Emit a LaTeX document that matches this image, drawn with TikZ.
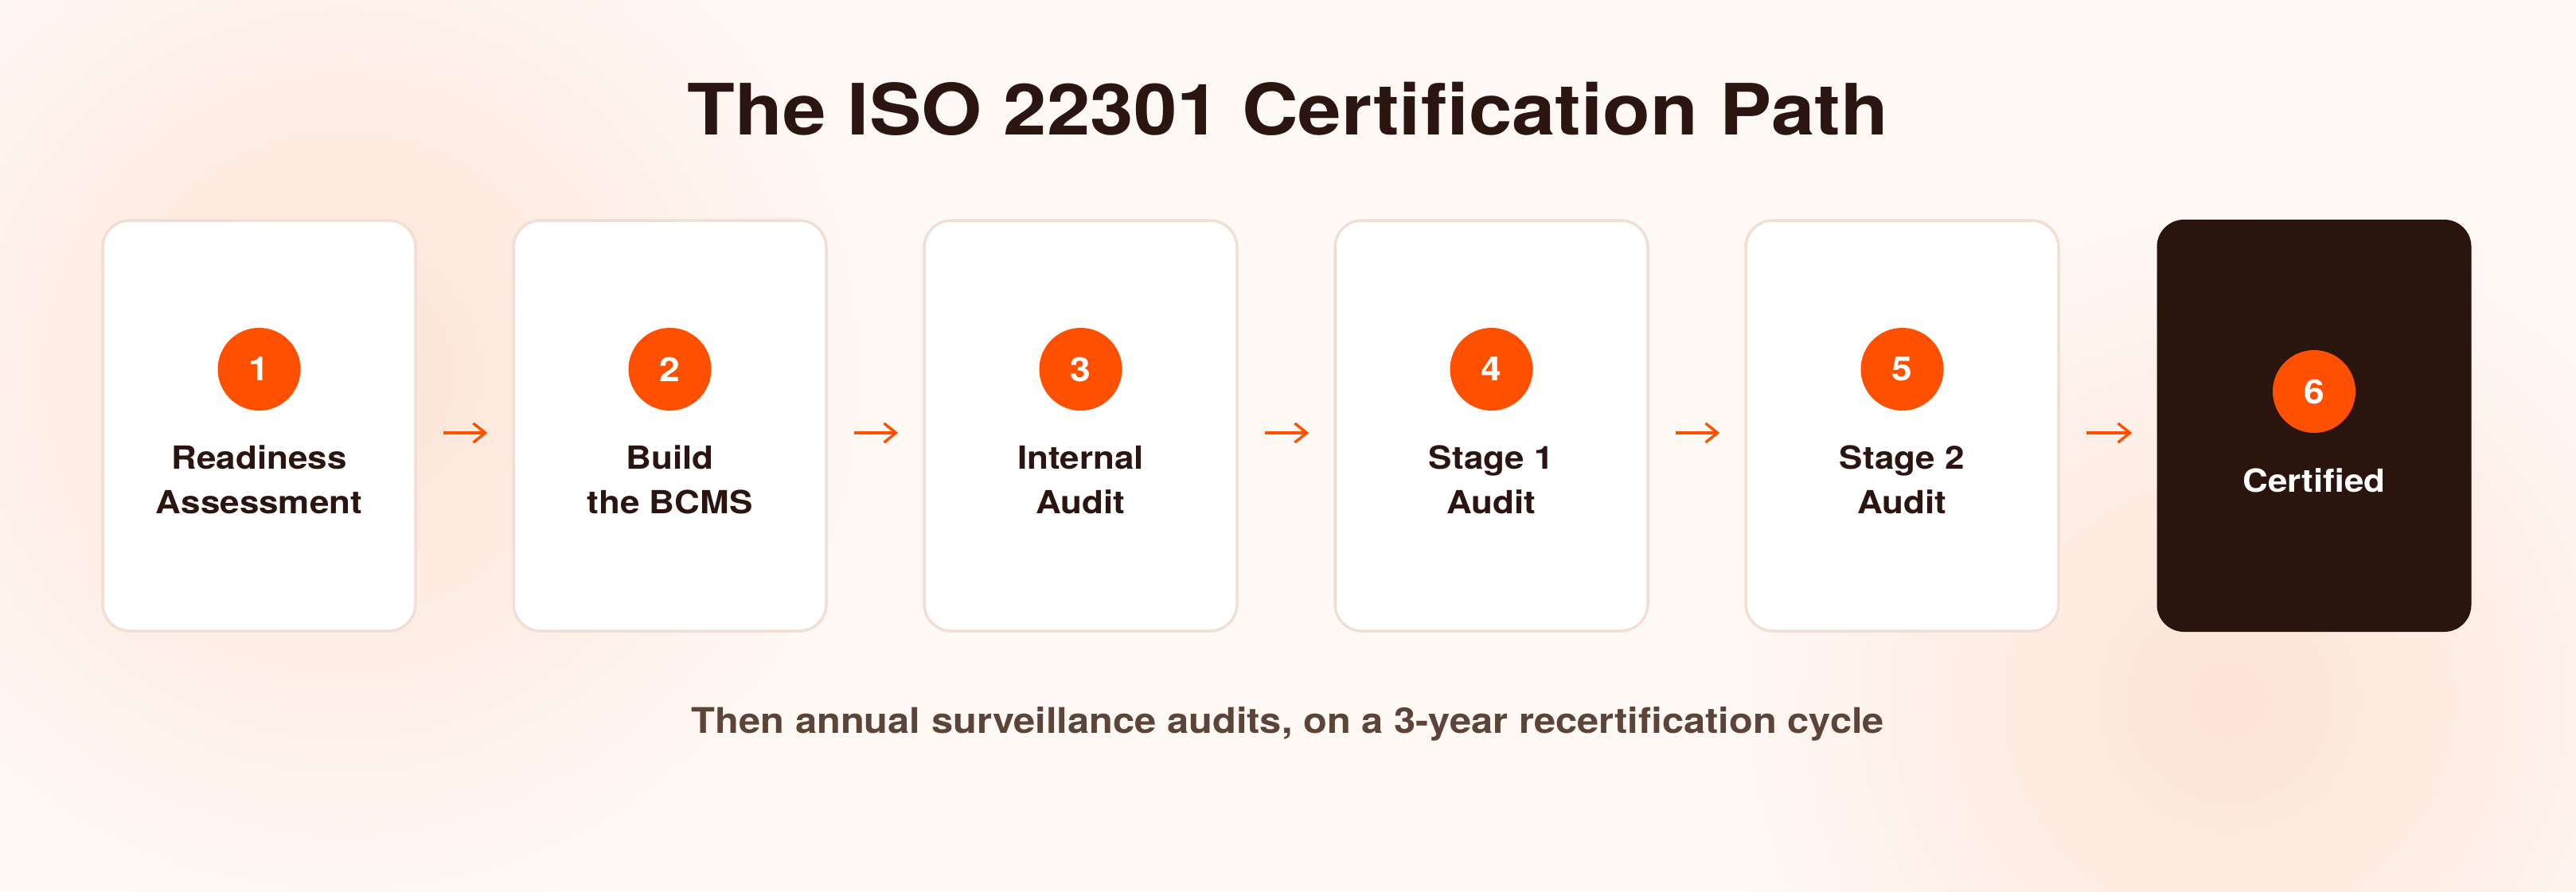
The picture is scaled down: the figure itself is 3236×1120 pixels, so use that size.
\documentclass[tikz,border=0pt]{standalone}
\usepackage{fontspec}
\setmainfont{TeX Gyre Heros}[FakeStretch=1.1]
\usetikzlibrary{arrows.meta}
\definecolor{bgbase}{HTML}{FFF9F6}
\definecolor{glow}{HTML}{FDE3D5}
\definecolor{ink}{HTML}{2B1510}
\definecolor{subink}{HTML}{5C4538}
\definecolor{accent}{HTML}{FF5000}
\definecolor{cardline}{HTML}{F1DFD4}
\definecolor{darkcard}{HTML}{2A150E}
\tikzset{
  card/.style={draw=cardline, line width=3.5pt, fill=white, rounded corners=34pt,
    minimum width=393pt, minimum height=516pt, inner sep=0pt},
  darkbox/.style={fill=darkcard, rounded corners=34pt,
    minimum width=395pt, minimum height=518pt, inner sep=0pt},
  badge/.style={circle, fill=accent, minimum size=104pt, inner sep=0pt,
    text=white, font=\fontsize{42}{42}\selectfont\bfseries},
  steplabel/.style={align=center, text=ink, font=\fontsize{40}{56}\selectfont\bfseries, inner sep=0pt},
  flow/.style={draw=accent, line width=3.4pt, -{Straight Barb[length=15pt,width=24pt]},
    shorten <=33pt, shorten >=31pt}
}
\begin{document}
\begin{tikzpicture}[x=1pt,y=-1pt]
\useasboundingbox (0,0) rectangle (3236,1120);
\begin{scope}
\clip (0,0) rectangle (3236,1120);
\fill[bgbase] (0,0) rectangle (3236,1120);
\shade[inner color=glow, outer color=bgbase] (430,470) circle (700);
\shade[inner color=glow, outer color=bgbase] (2800,880) circle (650);
\end{scope}
% title
\node[anchor=base, text=ink, inner sep=0pt, font=\fontsize{89}{89}\selectfont\bfseries] (title) at (1618,169) {The ISO 22301 Certification Path};
% cards
\foreach \i in {1,...,5}{
  \node[card] (b\i) at ({325.5+516*(\i-1)},535) {};
}
\node[darkbox] (b6) at (2907,535) {};
% badges
\foreach \i in {1,...,5}{
  \node[badge] (c\i) at ({325.5+516*(\i-1)},464) {\i};
}
\node[badge] (c6) at (2907,492) {6};
% labels (base anchor = last line's baseline)
\node[steplabel, anchor=base] (t1) at (325.5,645) {Readiness\\Assessment};
\node[steplabel, anchor=base] (t2) at (841.5,645) {Build\\the BCMS};
\node[steplabel, anchor=base] (t3) at (1357.5,645) {Internal\\Audit};
\node[steplabel, anchor=base] (t4) at (1873.5,645) {Stage 1\\Audit};
\node[steplabel, anchor=base] (t5) at (2389.5,645) {Stage 2\\Audit};
\node[steplabel, anchor=base, text=white] (t6) at (2907,618) {Certified};
% arrows
\foreach \i [evaluate=\i as \j using int(\i+1)] in {1,...,5}{
  \draw[flow] ([yshift=-9pt]b\i.east) -- ([yshift=-9pt]b\j.west);
}
% footer
\node[anchor=base, text=subink, inner sep=0pt, font=\fontsize{44.4}{44.4}\selectfont\bfseries] (foot) at (1618,921) {Then annual surveillance audits, on a 3-year recertification cycle};
\end{tikzpicture}
\end{document}
